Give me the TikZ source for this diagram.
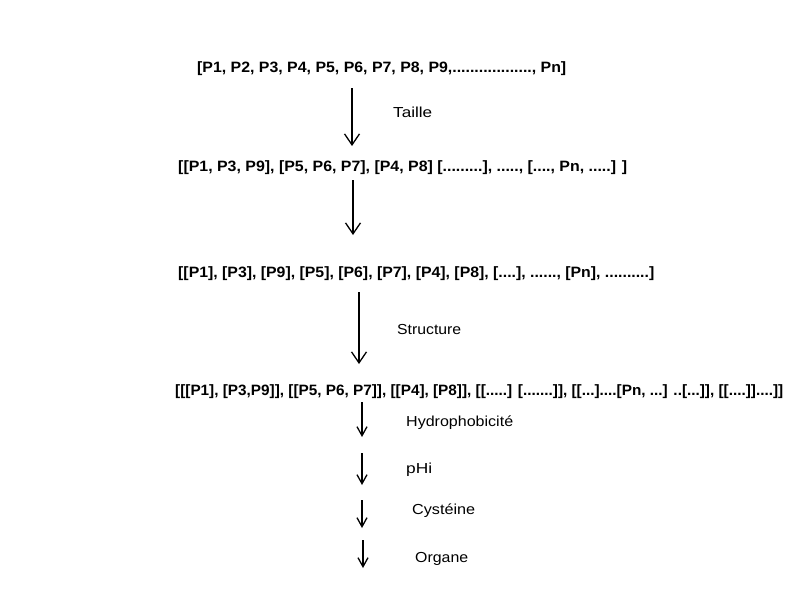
\documentclass[tikz,border=0pt]{standalone}
\usepackage{fontspec}
\setmainfont{Liberation Sans}
\usepackage{graphicx}
\usetikzlibrary{arrows.meta}
\newcommand\fitw[2]{\resizebox{#1pt}{\height}{#2}}
\begin{document}
\begin{tikzpicture}[x=1pt,y=-1pt,
  lst/.style={anchor=base west,inner sep=0pt,font=\fontsize{15}{17}\selectfont\bfseries},
  lbl/.style={anchor=base west,inner sep=0pt,font=\fontsize{14.5}{16}\selectfont},
  arr/.style={line width=1.3pt,-{Straight Barb[length=11pt,width=15pt,line width=1.3pt]}},
  sarr/.style={line width=1.3pt,-{Straight Barb[length=9pt,width=10pt,line width=1.3pt]}}]
\fill[white] (0,0) rectangle (800,600);
\useasboundingbox (0,0) rectangle (800,600);
% lists
\node[lst] (l1) at (197,72) {\fitw{369}{[P1, P2, P3, P4, P5, P6, P7, P8, P9,.................., Pn]}};
\node[lst] (l2) at (178,171) {\fitw{449}{[[P1, P3, P9], [P5, P6, P7], [P4, P8] [.........], ....., [...., Pn, .....] ]}};
\node[lst] (l3) at (178,277) {\fitw{476}{[[P1], [P3], [P9], [P5], [P6], [P7], [P4], [P8], [....], ......, [Pn], ..........]}};
\node[lst] (l4) at (175,395) {\fitw{608}{[[[P1], [P3,P9]], [[P5, P6, P7]], [[P4], [P8]], [[.....] [.......]], [[...]....[Pn, ...] ..[...]], [[....]]....]]}};
% labels
\node[lbl] (t1) at (393,117) {\fitw{39}{Taille}};
\node[lbl] (t2) at (397,334) {\fitw{64}{Structure}};
\node[lbl] (t3) at (406,426) {\fitw{107}{Hydrophobicité}};
\node[lbl] (t4) at (406,473) {\fitw{26}{pHi}};
\node[lbl] (t5) at (412,514) {\fitw{63}{Cystéine}};
\node[lbl] (t6) at (415,562) {\fitw{53}{Organe}};
% arrow end points
\coordinate (a1s) at (352,88);  \coordinate (a1e) at (352,146);
\coordinate (a2s) at (353,180); \coordinate (a2e) at (353,235);
\coordinate (a3s) at (359,292); \coordinate (a3e) at (359,364);
\coordinate (a4s) at (362,402); \coordinate (a4e) at (362,437);
\coordinate (a5s) at (362,453); \coordinate (a5e) at (362,485);
\coordinate (a6s) at (362,500); \coordinate (a6e) at (362,528);
\coordinate (a7s) at (363,540); \coordinate (a7e) at (363,568);
\draw[arr] (a1s) -- (a1e);
\draw[arr] (a2s) -- (a2e);
\draw[arr] (a3s) -- (a3e);
\draw[sarr] (a4s) -- (a4e);
\draw[sarr] (a5s) -- (a5e);
\draw[sarr] (a6s) -- (a6e);
\draw[sarr] (a7s) -- (a7e);
\end{tikzpicture}
\end{document}
